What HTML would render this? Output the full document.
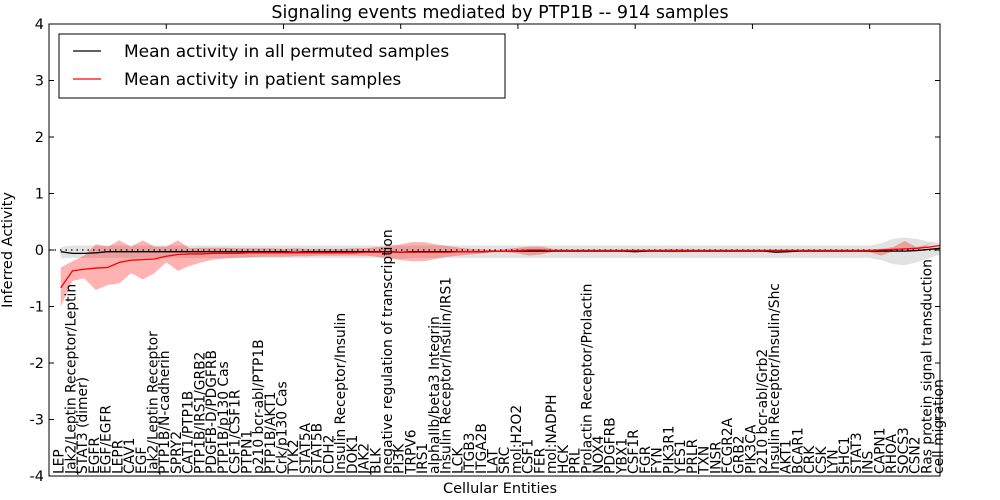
<!DOCTYPE html>
<html><head><meta charset="utf-8"><style>
body{margin:0;background:#fff;}
svg{display:block;font-family:"DejaVu Sans","Liberation Sans",sans-serif;}
</style></head><body>
<svg id="chart" width="1000" height="500">
<rect x="0" y="0" width="1000" height="500" fill="#fff"/>
<text x="500" y="18" text-anchor="middle" font-size="17.5">Signaling events mediated by PTP1B -- 914 samples</text>
<text x="500" y="493" text-anchor="middle" font-size="14.5">Cellular Entities</text>
<text transform="translate(12,250) rotate(-90)" text-anchor="middle" font-size="14.5">Inferred Activity</text>
<g id="plot"></g>
</svg>
<script>
const labels=["LEP","Jak2/Leptin Receptor/Leptin","STAT3 (dimer)","EGFR","EGF/EGFR","LEPR","CAV1","EGF","Jak2/Leptin Receptor","PTP1B/N-cadherin","SPRY2","CAT1/PTP1B","PTP1B/IRS1/GRB2","PDGFB-D/PDGFRB","PTP1B/p130 Cas","CSF1/CSF1R","PTPN1","p210 bcr-abl/PTP1B","PTP1B/AKT1","Crk/p130 Cas","TYK2","STAT5A","STAT5B","CDH2","Insulin Receptor/Insulin","DOK1","JAK2","BLK","negative regulation of transcription","PI3K","TRPV6","IRS1","alphaIIb/beta3 Integrin","Insulin Receptor/Insulin/IRS1","LCK","ITGB3","ITGA2B","LAT","SRC","mol:H2O2","CSF1","FER","mol:NADPH","HCK","PRL","Prolactin Receptor/Prolactin","NOX4","PDGFRB","YBX1","CSF1R","FGR","FYN","PIK3R1","YES1","PRLR","TXN","INSR","FCGR2A","GRB2","PIK3CA","p210 bcr-abl/Grb2","Insulin Receptor/Insulin/Shc","AKT1","BCAR1","CRK","CSK","LYN","SHC1","STAT3","INS","CAPN1","RHOA","SOCS3","CSN2","Ras protein signal transduction","cell migration"];
const redMean=[-0.67,-0.37,-0.34,-0.32,-0.31,-0.22,-0.18,-0.17,-0.16,-0.11,-0.08,-0.07,-0.07,-0.06,
-0.06,-0.06,-0.05,-0.05,-0.05,-0.05,-0.05,-0.05,-0.05,-0.05,-0.05,-0.05,-0.04,-0.04,
-0.04,-0.04,-0.04,-0.04,-0.04,-0.04,-0.03,-0.03,-0.03,-0.02,-0.02,-0.01,0,0,
-0.01,-0.01,-0.01,-0.01,-0.01,-0.01,-0.01,-0.01,-0.01,-0.01,-0.01,-0.01,-0.01,-0.01,-0.01,-0.01,-0.01,-0.01,-0.01,-0.01,-0.01,-0.01,-0.01,-0.01,-0.01,-0.01,-0.01,-0.01,0,0.01,0.02,0.03,0.05,0.08];
const redUpper=[-0.31,-0.2,-0.1,0.1,0.06,0.17,0.06,0.17,0.06,0.06,0.17,0.03,0.04,0.04,
0.04,0.03,0.03,0.03,0.03,0.02,0.03,0.02,0.02,0.02,0.02,0.03,0.03,0.05,
0.07,0.1,0.14,0.14,0.1,0.07,0.04,0.02,0.01,0,0.02,0.04,0.06,0.06,
0.02,0.01,0.01,0.01,0.01,0.01,0.01,0.01,0.01,0.01,0.02,0.02,0.01,0.01,0.01,0.01,0.01,0.01,0.01,0.01,0.01,0.01,0.01,0.01,0.01,0.01,0.01,0.01,0.02,0.05,0.16,0.05,0.1,0.2];
const redLower=[-1.0,-0.55,-0.5,-0.71,-0.62,-0.59,-0.41,-0.52,-0.41,-0.22,-0.37,-0.28,-0.22,-0.17,
-0.15,-0.14,-0.13,-0.12,-0.12,-0.12,-0.11,-0.11,-0.1,-0.1,-0.1,-0.1,-0.1,-0.12,
-0.15,-0.18,-0.2,-0.2,-0.16,-0.12,-0.1,-0.08,-0.06,-0.04,-0.04,-0.06,-0.1,-0.08,
-0.03,-0.03,-0.03,-0.03,-0.03,-0.03,-0.03,-0.03,-0.03,-0.03,-0.04,-0.04,-0.03,-0.03,-0.03,-0.03,-0.03,-0.03,-0.03,-0.03,-0.03,-0.03,-0.03,-0.03,-0.03,-0.03,-0.03,-0.04,-0.1,-0.02,0,-0.02];
const permMean=[-0.03,-0.06,-0.06,-0.05,-0.03,-0.03,-0.03,-0.03,-0.03,-0.03,-0.03,-0.03,-0.03,-0.03,
-0.03,-0.03,-0.03,-0.03,-0.03,-0.03,-0.04,-0.03,-0.03,-0.03,-0.03,-0.03,-0.03,-0.03,
-0.03,-0.04,-0.03,-0.03,-0.03,-0.03,-0.03,-0.03,-0.03,-0.02,-0.02,-0.02,-0.02,-0.02,
-0.02,-0.02,-0.02,-0.02,-0.02,-0.02,-0.02,-0.03,-0.02,-0.02,-0.02,-0.02,-0.02,-0.02,-0.02,-0.02,-0.02,-0.02,-0.02,-0.04,-0.03,-0.02,-0.02,-0.02,-0.02,-0.02,-0.02,-0.02,-0.02,-0.02,-0.02,-0.01,0.01,0.03];
const permUpper=[0.05,0.08,0.08,0.08,0.08,0.08,0.08,0.08,0.08,0.08,0.08,0.08,0.08,0.08,
0.08,0.08,0.08,0.08,0.08,0.08,0.08,0.08,0.08,0.08,0.08,0.08,0.08,0.08,
0.08,0.08,0.08,0.08,0.08,0.08,0.08,0.08,0.08,0.08,0.08,0.08,0.08,0.08,
0.08,0.08,0.08,0.08,0.08,0.08,0.08,0.08,0.08,0.08,0.08,0.08,0.08,0.08,0.08,0.08,0.08,0.08,0.08,0.08,0.08,0.08,0.08,0.08,0.08,0.08,0.08,0.08,0.12,0.2,0.22,0.2,0.15,0.12];
const permLower=[-0.15,-0.14,-0.14,-0.14,-0.14,-0.14,-0.14,-0.14,-0.14,-0.14,-0.14,-0.14,-0.14,-0.14,
-0.14,-0.14,-0.14,-0.14,-0.14,-0.14,-0.14,-0.14,-0.14,-0.14,-0.14,-0.14,-0.14,-0.14,
-0.14,-0.16,-0.14,-0.14,-0.14,-0.14,-0.14,-0.14,-0.14,-0.14,-0.14,-0.14,-0.14,-0.14,
-0.14,-0.14,-0.14,-0.14,-0.14,-0.14,-0.14,-0.14,-0.14,-0.14,-0.14,-0.14,-0.14,-0.14,-0.14,-0.14,-0.14,-0.14,-0.14,-0.14,-0.14,-0.14,-0.14,-0.14,-0.14,-0.14,-0.14,-0.14,-0.18,-0.25,-0.27,-0.22,-0.15,-0.08];
const yTicks=[-4,-3,-2,-1,0,1,2,3,4];

const L=49,R=940,T=24,B=476;
const step=(R-L)/76;
const xs=i=>L+(i+1)*step;
const ys=v=>T+(4-v)*(B-T)/8;
const NS="http://www.w3.org/2000/svg";
const g=document.getElementById('plot');
function mk(tag,attrs){const e=document.createElementNS(NS,tag);for(const k in attrs)e.setAttribute(k,attrs[k]);g.appendChild(e);return e;}
function band(up,lo,fill,name){
  let d="M"+up.map((v,i)=>xs(i)+","+ys(v)).join(" L");
  for(let i=lo.length-1;i>=0;i--)d+=" L"+xs(i)+","+ys(lo[i]);
  const p=mk('path',{d:d+"Z",fill:fill,stroke:'none'});
  
  
}
function line(arr,col,name){
  const p=mk('polyline',{points:arr.map((v,i)=>xs(i)+","+ys(v)).join(" "),fill:'none',stroke:col,'stroke-width':1.3});
  
  
}
band(permUpper,permLower,'rgba(160,160,160,0.3)','permuted-band');
band(redUpper,redLower,'rgba(255,0,0,0.3)','patient-band');
const z=mk('line',{x1:L,x2:R,y1:ys(0),y2:ys(0),stroke:'#000','stroke-dasharray':'1.5,4','stroke-width':1.2});


line(permMean,'#000','permuted-mean-line');
line(redMean,'#f00','patient-mean-line');
const fr=mk('rect',{x:L,y:T,width:R-L,height:B-T,fill:'none',stroke:'#000','stroke-width':1});


yTicks.forEach(t=>{
  const y=ys(t);
  mk('line',{x1:L,x2:L+5,y1:y,y2:y,stroke:'#000'});
  mk('line',{x1:R,x2:R-5,y1:y,y2:y,stroke:'#000'});
  const tx=mk('text',{x:L-5,y:y+5,'text-anchor':'end','font-size':14.5});
  tx.textContent=t;
  
  
});
for(let k=10;k<76;k+=10){const x=L+k*step;mk('line',{x1:x,x2:x,y1:T,y2:T+5,stroke:'#000'});}
labels.forEach((s,i)=>{
  const x=xs(i);
  const tx=mk('text',{transform:`translate(${x+3},${B-2}) rotate(-90)`,'font-size':13.8});
  tx.textContent=s;
  
  
});
const lg=mk('rect',{x:59,y:34,width:446,height:64,fill:'#fff',stroke:'#000'});


[['#000','Mean activity in all permuted samples',51],['#f00','Mean activity in patient samples',79]].forEach(([c,t,y])=>{
  mk('line',{x1:73,x2:101,y1:y,y2:y,stroke:c,'stroke-width':1.3});
  const tx=mk('text',{x:124,y:y+6,'font-size':17});
  tx.textContent=t;
  
  
});
</script>
</body></html>
